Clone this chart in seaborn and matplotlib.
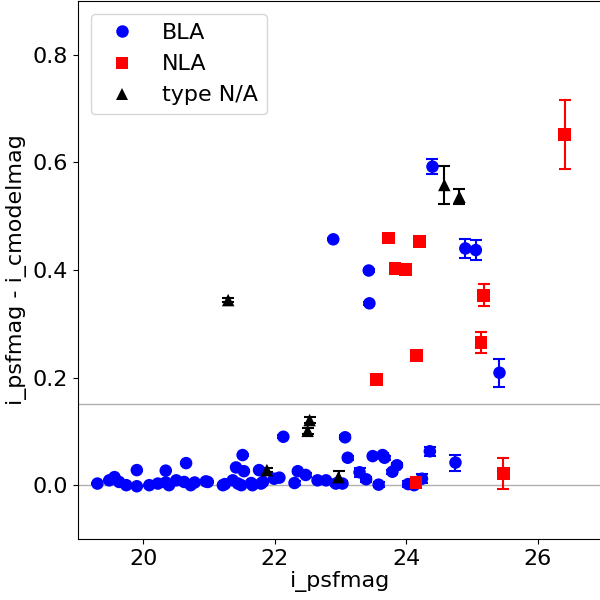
import matplotlib
matplotlib.use("Agg")
import matplotlib.pyplot as plt
import numpy as np
import pandas as pd
import seaborn as sns

# Broad-line AGN: PSF magnitude, PSF - cmodel colour, and its uncertainty
bla_mag = [24.40, 22.89, 24.90, 25.06, 23.43, 23.44, 25.42,
           22.13, 23.07, 21.51, 23.11, 23.49, 23.64, 23.67, 23.86, 23.79,
           24.36, 24.75, 24.24, 24.03, 24.12, 23.29, 23.39, 23.58, 22.93,
           23.03, 22.07, 22.30, 22.35, 22.47, 22.65, 22.78, 20.65, 21.41,
           21.53, 21.76, 21.99,
           19.30, 19.48, 19.56, 19.63, 19.74, 19.90, 19.90, 20.09, 20.22,
           20.34, 20.34, 20.39, 20.50, 20.62, 20.72, 20.98, 21.21, 21.36,
           21.49, 21.66, 21.79, 21.24, 21.44, 21.64, 21.82, 20.95, 20.78]
bla_diff = [0.592, 0.457, 0.440, 0.437, 0.399, 0.338, 0.209,
            0.090, 0.089, 0.056, 0.051, 0.054, 0.056, 0.051, 0.037, 0.025,
            0.063, 0.042, 0.012, 0.002, 0.000, 0.024, 0.011, 0.001, 0.003,
            0.003, 0.014, 0.004, 0.026, 0.019, 0.009, 0.009, 0.041, 0.033,
            0.026, 0.028, 0.012,
            0.003, 0.009, 0.015, 0.006, 0.000, 0.028, -0.002, 0.000, 0.003,
            0.027, 0.005, 0.000, 0.009, 0.006, 0.000, 0.006, 0.000, 0.009,
            0.000, 0.000, 0.003, 0.002, 0.003, 0.004, 0.006, 0.007, 0.005]
bla_err = [0.014, 0.002, 0.017, 0.019, 0.003, 0.003, 0.026,
           0.003, 0.004, 0.002, 0.004, 0.004, 0.004, 0.004, 0.004, 0.004,
           0.008, 0.015, 0.008, 0.005, 0.005, 0.008, 0.005, 0.005, 0.004,
           0.004, 0.003, 0.003, 0.003, 0.003, 0.003, 0.003, 0.002, 0.002,
           0.002, 0.002, 0.002,
           0.001, 0.001, 0.001, 0.001, 0.001, 0.001, 0.001, 0.001, 0.001,
           0.001, 0.001, 0.001, 0.001, 0.001, 0.001, 0.001, 0.001, 0.001,
           0.001, 0.001, 0.001, 0.001, 0.001, 0.001, 0.001, 0.001, 0.001]

# Narrow-line AGN
nla_mag = [26.41, 23.73, 24.20, 23.83, 23.99, 25.18, 25.14, 24.16, 23.55,
           24.15, 25.48]
nla_diff = [0.652, 0.459, 0.453, 0.403, 0.401, 0.353, 0.265, 0.241, 0.196,
            0.005, 0.022]
nla_err = [0.064, 0.003, 0.003, 0.003, 0.003, 0.020, 0.020, 0.003, 0.003,
           0.004, 0.029]

# Objects without a spectral type
na_mag = [24.58, 24.81, 21.29, 22.53, 22.50, 21.88, 22.97]
na_diff = [0.558, 0.536, 0.344, 0.121, 0.101, 0.028, 0.015]
na_err = [0.036, 0.014, 0.004, 0.006, 0.006, 0.004, 0.011]

groups = [("BLA", "blue", "o", bla_mag, bla_diff, bla_err),
          ("NLA", "red", "s", nla_mag, nla_diff, nla_err),
          ("type N/A", "black", "^", na_mag, na_diff, na_err)]

df = pd.concat([
    pd.DataFrame({"i_psfmag": m, "diff": d, "err": e, "type": name})
    for name, _, _, m, d, e in groups
], ignore_index=True)

fig = plt.figure(figsize=(6, 6), dpi=100)
ax = fig.add_axes([0.1295, 0.1017, 0.876, 0.8967])

ax.axhline(0.0, color="#b0b0b0", lw=1.0, zorder=0)
ax.axhline(0.15, color="#b0b0b0", lw=1.0, zorder=0)

for name, color, _, m, d, e in groups:
    ax.errorbar(m, d, yerr=e, fmt="none", ecolor=color, elinewidth=1.5,
                capsize=4, capthick=1.5, zorder=2)

sns.scatterplot(data=df, x="i_psfmag", y="diff", hue="type", style="type",
                palette={g[0]: g[1] for g in groups},
                markers={g[0]: g[2] for g in groups},
                s=81, linewidth=0, ax=ax, zorder=3)

handles, labels = ax.get_legend_handles_labels()
ax.legend(handles, labels, loc="upper left", fontsize=16,
          borderaxespad=0.6)

ax.set_xlim(19.0, 27.0)
ax.set_ylim(-0.1, 0.9)
ax.set_xticks([20, 22, 24, 26])
ax.set_yticks([0.0, 0.2, 0.4, 0.6, 0.8])
ax.tick_params(labelsize=16)
ax.set_xlabel("i_psfmag", fontsize=16, labelpad=2)
ax.set_ylabel("i_psfmag - i_cmodelmag", fontsize=16, labelpad=4)

fig.savefig("out.png", dpi=100)
